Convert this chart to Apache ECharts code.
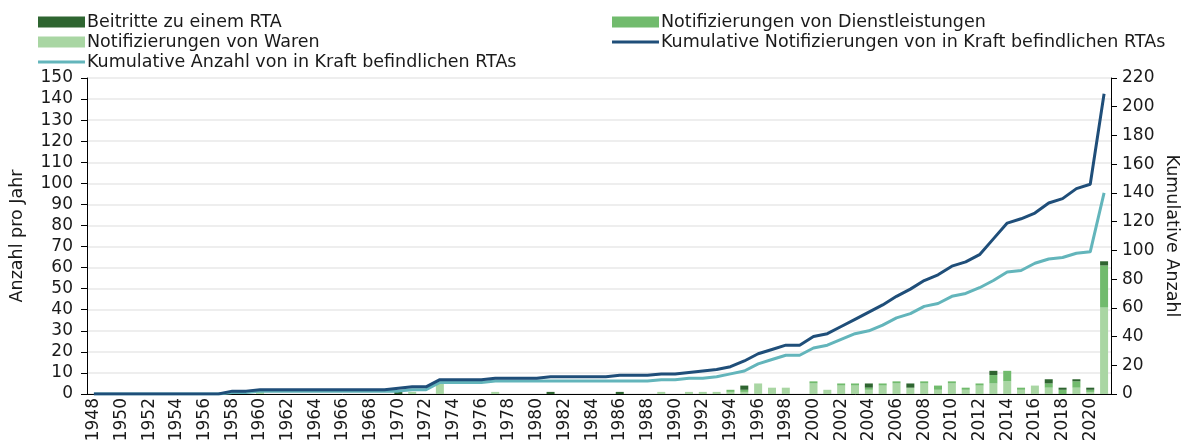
<!DOCTYPE html>
<html>
<head>
<meta charset="utf-8">
<script src="https://cdn.jsdelivr.net/npm/echarts@6/dist/echarts.min.js"></script>
<style>
  html, body { margin: 0; padding: 0; background: #fff; }
  #chart { width: 1185px; height: 444px; }
</style>
</head>
<body>
<div id="chart"></div>
<script>
// Jahre 1948 - 2021
var years = [];
for (var y = 1948; y <= 2021; y++) years.push(String(y));

// Notifizierungen pro Jahr (linke Achse)
var waren = [
  0,0,0,0,0,0,0,0,0,0,
  1,0,1,0,0,0,0,0,0,0,
  0,0,0,1,0,5,0,0,0,1,
  0,0,0,0,0,0,0,0,0,0,
  0,1,0,1,1,1,1,1,5,3,
  3,0,5,2,4,4,2,4,5,3,
  5,2,5,2,4,5,6,2,4,3,
  0,3,1,41
];
var dienstleistungen = [
  0,0,0,0,0,0,0,0,0,0,
  0,0,0,0,0,0,0,0,0,0,
  0,0,0,0,0,0,0,0,0,0,
  0,0,0,0,0,0,0,0,0,0,
  0,0,0,0,0,0,1,1,0,0,
  0,0,1,0,1,1,1,1,1,0,
  1,2,1,1,1,4,5,1,0,2,
  2,3,1,20
];
var beitritte = [
  0,0,0,0,0,0,0,0,0,0,
  0,0,0,0,0,0,0,0,0,0,
  0,0,1,0,0,0,0,0,0,0,
  0,0,0,1,0,0,0,0,1,0,
  0,0,0,0,0,0,0,2,0,0,
  0,0,0,0,0,0,2,0,0,2,
  0,0,0,0,0,2,0,0,0,2,
  1,1,1,2
];

// kumulativ (rechte Achse)
var kumNotifizierungen = [
  0,0,0,0,0,0,0,0,0,0,
  2,2,3,3,3,3,3,3,3,3,
  3,3,4,5,5,10,10,10,10,11,
  11,11,11,12,12,12,12,12,13,13,
  13,14,14,15,16,17,19,23,28,31,
  34,34,40,42,47,52,57,62,68,73,
  79,83,89,92,97,108,119,122,126,133,
  136,143,146,209
];
var kumRTAs = [
  0,0,0,0,0,0,0,0,0,0,
  1,1,2,2,2,2,2,2,2,2,
  2,2,2,3,3,8,8,8,8,9,
  9,9,9,9,9,9,9,9,9,9,
  9,10,10,11,11,12,14,16,21,24,
  27,27,32,34,38,42,44,48,53,56,
  61,63,68,70,74,79,85,86,91,94,
  95,98,99,140
];

var fontName = 'DejaVu Sans';
var txt = '#1a1a1a';
// duenner Strich als Legendensymbol fuer die Linien (Eckpunkte halten die Box 47x11)
var lineIcon = 'path://M0,0L0,0.01M0,4L47,4L47,7L0,7ZM47,11L47,11.01';

var chartDom = document.getElementById('chart');
var myChart = echarts.init(chartDom);
var legendText = { fontSize: 17.5, color: txt, fontFamily: fontName, padding: [0, 0, 0, -3] };
var option = {
  animation: false,
  textStyle: { fontFamily: fontName },
  legend: [
    {
      orient: 'vertical',
      left: 33,
      top: 8,
      itemWidth: 47,
      itemHeight: 11,
      itemGap: 2,
      textStyle: legendText,
      data: [
        { name: 'Beitritte zu einem RTA', icon: 'rect' },
        { name: 'Notifizierungen von Waren', icon: 'rect' },
        { name: 'Kumulative Anzahl von in Kraft befindlichen RTAs', icon: lineIcon }
      ]
    },
    {
      orient: 'vertical',
      left: 607,
      top: 8,
      itemWidth: 47,
      itemHeight: 11,
      itemGap: 2,
      textStyle: legendText,
      data: [
        { name: 'Notifizierungen von Dienstleistungen', icon: 'rect' },
        { name: 'Kumulative Notifizierungen von in Kraft befindlichen RTAs', icon: lineIcon }
      ]
    }
  ],
  grid: {
    left: 87,
    right: 74,
    top: 78,
    bottom: 50,
    containLabel: false,
    outerBoundsMode: 'none'
  },
  xAxis: {
    type: 'category',
    data: years,
    axisLine: { lineStyle: { color: '#000', width: 1 } },
    axisTick: { show: false },
    axisLabel: {
      interval: 1,
      rotate: 90,
      fontSize: 17,
      color: txt,
      margin: 4
    }
  },
  yAxis: [
    {
      type: 'value',
      min: 0,
      max: 150,
      interval: 10,
      name: 'Anzahl pro Jahr',
      nameLocation: 'middle',
      nameMoveOverlap: false,
      nameGap: 61,
      nameTextStyle: { fontSize: 17.5, color: txt },
      axisLine: { show: true, lineStyle: { color: '#000' } },
      axisTick: { show: true, length: 6, lineStyle: { color: '#000' } },
      axisLabel: { fontSize: 17, color: txt, margin: 14 },
      splitLine: { lineStyle: { color: '#eeeeee', width: 2 } }
    },
    {
      type: 'value',
      min: 0,
      max: 220,
      interval: 20,
      name: 'Kumulative Anzahl',
      nameLocation: 'middle',
      nameMoveOverlap: false,
      nameRotate: -90,
      nameGap: 52,
      nameTextStyle: { fontSize: 17.5, color: txt },
      axisLine: { show: true, lineStyle: { color: '#000' } },
      axisTick: { show: true, length: 6, lineStyle: { color: '#000' } },
      axisLabel: { fontSize: 17, color: txt, margin: 11 },
      splitLine: { show: false }
    }
  ],
  series: [
    {
      name: 'Notifizierungen von Waren',
      type: 'bar',
      stack: 'jahr',
      barWidth: 8,
      itemStyle: { color: '#a9d6a3' },
      data: waren
    },
    {
      name: 'Notifizierungen von Dienstleistungen',
      type: 'bar',
      stack: 'jahr',
      barWidth: 8,
      itemStyle: { color: '#71bb6d' },
      data: dienstleistungen
    },
    {
      name: 'Beitritte zu einem RTA',
      type: 'bar',
      stack: 'jahr',
      barWidth: 8,
      itemStyle: { color: '#2e6530' },
      data: beitritte
    },
    {
      name: 'Kumulative Notifizierungen von in Kraft befindlichen RTAs',
      type: 'line',
      yAxisIndex: 1,
      symbol: 'none',
      z: 5,
      lineStyle: { color: '#1f4e79', width: 3 },
      itemStyle: { color: '#1f4e79' },
      data: kumNotifizierungen
    },
    {
      name: 'Kumulative Anzahl von in Kraft befindlichen RTAs',
      type: 'line',
      yAxisIndex: 1,
      symbol: 'none',
      z: 4,
      lineStyle: { color: '#63b5bb', width: 3 },
      itemStyle: { color: '#63b5bb' },
      data: kumRTAs
    }
  ]
};
option && myChart.setOption(option);
</script>
</body>
</html>
